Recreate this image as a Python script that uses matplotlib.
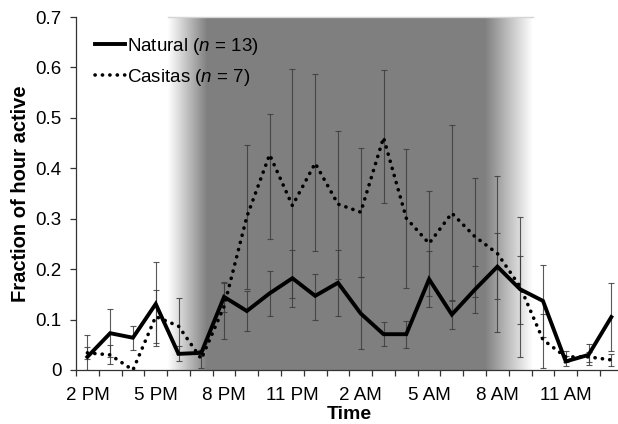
import numpy as np
import matplotlib
matplotlib.use("Agg")
import matplotlib.pyplot as plt
from matplotlib.lines import Line2D

plt.rcParams['font.family'] = ['Liberation Sans', 'DejaVu Sans']
plt.rcParams['mathtext.fontset'] = 'custom'
plt.rcParams['mathtext.it'] = 'Liberation Sans:italic'
plt.rcParams['mathtext.rm'] = 'Liberation Sans'

# hourly categories, 2 PM -> 1 PM
hours = ['2 PM', '3 PM', '4 PM', '5 PM', '6 PM', '7 PM', '8 PM', '9 PM', '10 PM', '11 PM',
         '12 AM', '1 AM', '2 AM', '3 AM', '4 AM', '5 AM', '6 AM', '7 AM', '8 AM', '9 AM',
         '10 AM', '11 AM', '12 PM', '1 PM']
tick_labels = ['2 PM', '5 PM', '8 PM', '11 PM', '2 AM', '5 AM', '8 AM', '11 AM']

natural = [0.026, 0.073, 0.064, 0.131, 0.032, 0.034, 0.145, 0.117, 0.152, 0.182, 0.147, 0.173,
           0.112, 0.071, 0.071, 0.180, 0.110, 0.159, 0.205, 0.160, 0.137, 0.017, 0.030, 0.105]
natural_low = [0.0, 0.026, 0.040, 0.048, 0.017, 0.028, 0.115, 0.077, 0.107, 0.125, 0.100, 0.108,
               0.042, 0.048, 0.043, 0.124, 0.081, 0.114, 0.140, 0.091, 0.065, 0.007, 0.009, 0.037]
natural_high = [0.070, 0.120, 0.087, 0.214, 0.047, 0.040, 0.175, 0.157, 0.196, 0.238, 0.190, 0.238,
                0.185, 0.095, 0.097, 0.236, 0.139, 0.207, 0.271, 0.227, 0.208, 0.027, 0.051, 0.173]

casitas = [0.034, 0.030, 0.0, 0.106, 0.087, 0.022, 0.126, 0.304, 0.427, 0.326, 0.410, 0.329,
           0.313, 0.461, 0.301, 0.251, 0.311, 0.265, 0.231, 0.165, 0.060, 0.026, 0.026, 0.020]
casitas_low = [0.022, 0.011, 0.0, 0.053, 0.032, 0.004, 0.061, 0.161, 0.259, 0.143, 0.236, 0.180,
               0.185, 0.331, 0.163, 0.147, 0.137, 0.145, 0.076, 0.025, 0.003, 0.015, 0.016, 0.007]
casitas_high = [0.046, 0.049, 0.0, 0.159, 0.142, 0.040, 0.172, 0.447, 0.507, 0.597, 0.587, 0.473,
                0.440, 0.594, 0.438, 0.355, 0.485, 0.380, 0.384, 0.304, 0.112, 0.037, 0.036, 0.031]

x = np.arange(len(hours))
dots = (0, (0.05, 2.0))

fig = plt.figure(figsize=(6.18, 4.24), dpi=100)
ax = fig.add_axes([76 / 618, 54 / 424, 546.7 / 618, 353 / 424])

# night shading with soft edges
gx = np.linspace(3.54, 19.56, 800)
shade = np.ones_like(gx) * 0.5
left = gx < 5.25
shade[left] = 1 - 0.5 * (gx[left] - 3.54) / (5.25 - 3.54)
right = gx > 17.46
shade[right] = 0.5 + 0.5 * (gx[right] - 17.46) / (19.56 - 17.46)
img = np.repeat(shade[None, :, None], 3, axis=2)
ax.imshow(img, extent=[3.54, 19.56, 0, 0.7], aspect='auto', interpolation='bilinear', zorder=0)
ax.plot([3.54, 19.56], [0.7, 0.7], color='#d4d4d4', lw=1.0, zorder=1, clip_on=False)

nat = np.array(natural)
cas = np.array(casitas)
ax.errorbar(x, nat, yerr=[nat - np.array(natural_low), np.array(natural_high) - nat],
            fmt='none', ecolor='#3c3c3c', elinewidth=0.8, capsize=2.2, capthick=0.8, alpha=0.85, zorder=2)
ax.errorbar(x, cas, yerr=[cas - np.array(casitas_low), np.array(casitas_high) - cas],
            fmt='none', ecolor='#3c3c3c', elinewidth=0.8, capsize=2.2, capthick=0.8, alpha=0.85, zorder=2)

ax.plot(x, natural, color='black', lw=2.8, solid_joinstyle='miter', zorder=4)
ax.plot(x, casitas, color='black', lw=2.6, linestyle=dots, dash_capstyle='round', zorder=3)

ax.set_xlim(-0.5, 23.5)
ax.set_ylim(0, 0.7)
ax.set_yticks(np.arange(0, 0.71, 0.1))
ax.set_yticklabels(['0'] + ['%.1f' % v for v in np.arange(0.1, 0.71, 0.1)])
ax.set_xticks(np.arange(-0.5, 24, 1))
ax.set_xticklabels([])
ax.set_xticks([hours.index(t) for t in tick_labels], minor=True)
ax.set_xticklabels(tick_labels, minor=True)
ax.tick_params(axis='x', which='major', direction='out', length=4, width=0.9, color='#333333')
ax.tick_params(axis='x', which='minor', length=0, pad=12.5, labelsize=13.5)
ax.tick_params(axis='y', direction='out', length=4, width=0.9, color='#333333', labelsize=13.5, pad=6.5)

for s in ['top', 'right']:
    ax.spines[s].set_visible(False)
for s in ['left', 'bottom']:
    ax.spines[s].set_color('#333333')
    ax.spines[s].set_linewidth(0.9)

ax.set_xlabel('Time', fontsize=14, fontweight='bold', labelpad=1)
ax.set_ylabel('Fraction of hour active', fontsize=14.5, fontweight='bold', labelpad=4)

handles = [Line2D([], [], color='black', lw=2.8),
           Line2D([], [], color='black', lw=2.6, linestyle=dots, dash_capstyle='round')]
ax.legend(handles, ['Natural ($n$ = 13)', 'Casitas ($n$ = 7)'], loc='upper left',
          bbox_to_anchor=(0.035, 0.947), frameon=False, fontsize=13.5, handlelength=1.6,
          handletextpad=0.1, borderpad=0, borderaxespad=0, labelspacing=0.55)

fig.savefig('out.png', dpi=100)
